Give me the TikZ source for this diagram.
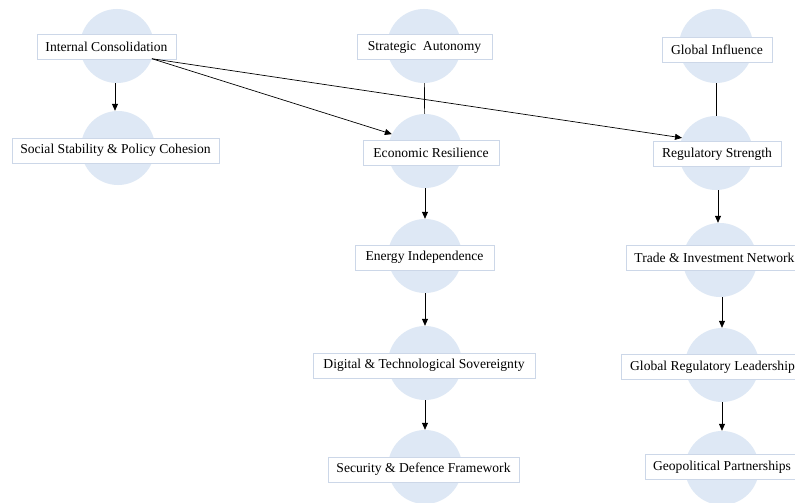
\documentclass[tikz,border=0pt]{standalone}
\usepackage{fontspec}
\setmainfont{Liberation Serif}
\usetikzlibrary{arrows.meta}
\definecolor{circfill}{HTML}{DEE8F5}
\definecolor{boxline}{HTML}{CCD7E8}
\begin{document}
\begin{tikzpicture}[x=1pt,y=-1pt,
  blob/.style={circle,fill=circfill,minimum size=74pt,inner sep=0pt},
  lbl/.style={rectangle,draw=boxline,line width=0.8pt,fill=white,minimum height=25pt,inner sep=0pt,font=\fontsize{13.6}{16}\selectfont},
  arr/.style={-{Triangle[length=7pt,width=6pt]},line width=0.7pt,black},
  link/.style={line width=0.7pt,black}]
\useasboundingbox (0,0) rectangle (795,503);
\fill[white] (0,0) rectangle (795,503);
% circles
\node[blob] (c11) at (117,46) {};
\node[blob] (c12) at (118,148) {};
\node[blob] (c21) at (424,46) {};
\node[blob] (c22) at (425,151) {};
\node[blob] (c23) at (425,256) {};
\node[blob] (c24) at (425,363) {};
\node[blob] (c25) at (425,467) {};
\node[blob] (c31) at (716,46) {};
\node[blob] (c32) at (716,153) {};
\node[blob] (c33) at (720,260) {};
\node[blob] (c34) at (722,365) {};
\node[blob] (c35) at (722,468) {};
% labels
\node[lbl,minimum width=139pt] (b11) at (106.5,46.5) {Internal Consolidation};
\node[lbl,minimum width=207pt] (b12) at (115.5,150.5) {Social Stability \& Policy Cohesion};
\node[lbl,minimum width=135pt] (b21) at (424.5,47) {Strategic\ \ Autonomy};
\node[lbl,minimum width=136pt] (b22) at (431,152.5) {Economic Resilience};
\node[lbl,minimum width=139pt] (b23) at (424.5,257.5) {Energy Independence};
\node[lbl,minimum width=222pt] (b24) at (424,365.5) {Digital \& Technological Sovereignty};
\node[lbl,minimum width=191pt] (b25) at (423.5,469.5) {Security \& Defence Framework};
\node[lbl,minimum width=110pt] (b31) at (717,49.5) {Global Influence};
\node[lbl,minimum width=128pt] (b32) at (717,154) {Regulatory Strength};
\node[lbl,minimum width=177pt] (b33) at (714.5,258) {Trade \& Investment Network};
\node[lbl,minimum width=183pt] (b34) at (712.5,367) {Global Regulatory Leadership};
\node[lbl,minimum width=154pt] (b35) at (722,467) {Geopolitical Partnerships};
% connectors
\draw[arr] (c11.south -| 115,0) -- (c12.north -| 115,0);
\draw[arr] (c11.-20) -- (c22.153);
\draw[arr] (c11.-20) -- (c32.156);
\draw[link] (c21) -- (c22);
\draw[arr] (c22) -- (c23);
\draw[arr] (c23) -- (c24);
\draw[arr] (c24) -- (c25);
\draw[link] (c31) -- (c32);
\draw[arr] (c32.south -| 718,0) -- (c33.north -| 718,0);
\draw[arr] (c33.south -| c34) -- (c34.north);
\draw[arr] (c34) -- (c35);
\end{tikzpicture}
\end{document}
